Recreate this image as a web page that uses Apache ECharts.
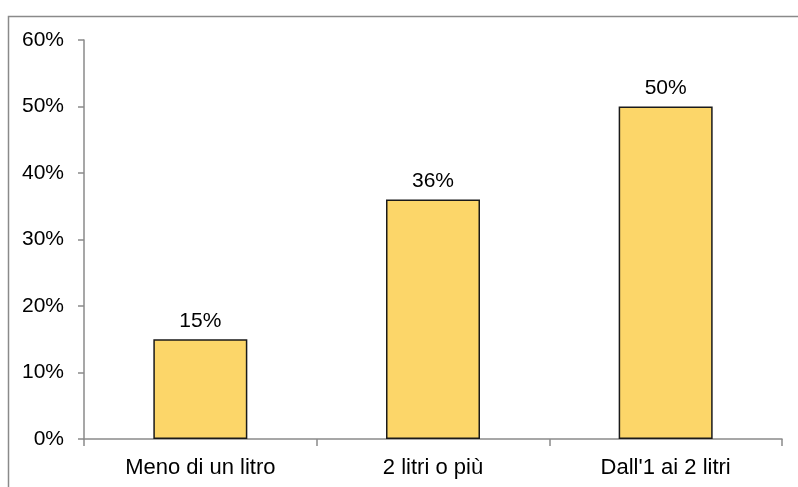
<!DOCTYPE html>
<html>
<head>
<meta charset="utf-8">
<script src="https://cdn.jsdelivr.net/npm/echarts@6/dist/echarts.min.js"></script>
<style>
  html, body { margin: 0; padding: 0; background: #fff; }
  #chart { width: 798px; height: 487px; }
</style>
</head>
<body>
<div id="chart"></div>
<script>
// Quantità d'acqua bevuta al giorno (quota di rispondenti)
const categories = ['Meno di un litro', '2 litri o più', "Dall'1 ai 2 litri"];
const shares = [15, 36, 50];
const yTicks = [0, 10, 20, 30, 40, 50, 60];

const font = 'Liberation Sans, Arial, sans-serif';
const axisGray = '#8a8a8a';

const chart = echarts.init(document.getElementById('chart'), null, { renderer: 'canvas' });

chart.setOption({
  animation: false,
  backgroundColor: '#fff',
  graphic: [{
    type: 'rect',
    shape: { x: 8.5, y: 16.5, width: 900, height: 600 },
    style: { fill: 'none', stroke: axisGray, lineWidth: 1.5 },
    silent: true,
    z: -1
  }],
  grid: { left: 84, right: 16, top: 40, bottom: 48, containLabel: false },
  xAxis: {
    type: 'category',
    data: categories,
    axisLine: { show: true, lineStyle: { color: axisGray, width: 1.5 } },
    axisTick: { show: true, length: 7, alignWithLabel: false, lineStyle: { color: axisGray, width: 1.5 } },
    axisLabel: { color: '#000', fontFamily: font, fontSize: 22, margin: 18 },
    splitLine: { show: false }
  },
  yAxis: {
    type: 'value',
    min: yTicks[0],
    max: yTicks[yTicks.length - 1],
    interval: 10,
    axisLine: { show: true, lineStyle: { color: axisGray, width: 1.5 } },
    axisTick: { show: true, length: 6, lineStyle: { color: axisGray, width: 1.5 } },
    axisLabel: { color: '#000', fontFamily: font, fontSize: 21, margin: 20, formatter: v => v + '%' },
    splitLine: { show: false }
  },
  series: [{
    type: 'bar',
    data: shares,
    barWidth: 94,
    itemStyle: { color: '#FCD669', borderColor: '#1a1a1a', borderWidth: 1.5 },
    label: {
      show: true,
      position: 'top',
      distance: 8,
      color: '#000',
      fontFamily: font,
      fontSize: 21,
      formatter: p => p.value + '%'
    }
  }]
});
</script>
</body>
</html>
